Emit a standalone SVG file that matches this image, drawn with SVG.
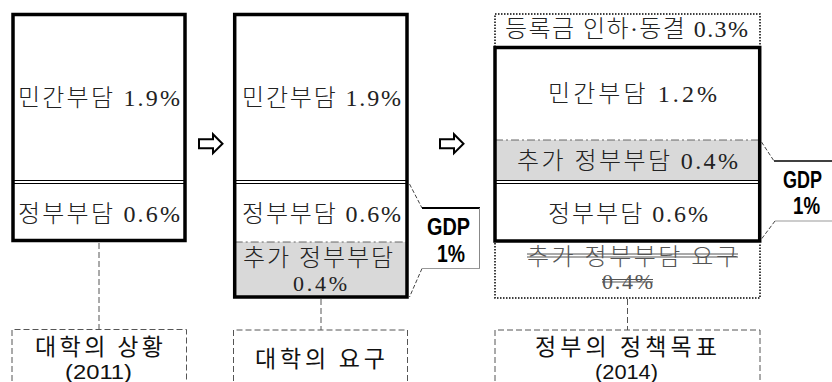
<svg xmlns="http://www.w3.org/2000/svg" width="832" height="382" viewBox="0 0 832 382">
<style>
.box{fill:none;stroke:#000;stroke-width:3.5}
.sep{stroke:#000;stroke-width:1;fill:none}
.dd{stroke:#666;stroke-width:1;stroke-dasharray:8 3 2 3;fill:none}
.dash{stroke:#555;stroke-width:1;stroke-dasharray:6 3;fill:none}
.dot{stroke:#000;stroke-width:1.5;stroke-dasharray:1.5 1.5;fill:none}
.diag{stroke:#444;stroke-width:1;stroke-dasharray:4 2;fill:none}
.gray{fill:#d9d9d9}
.s{font-family:"Liberation Serif","Noto Sans CJK KR",serif;font-size:24px;fill:#222;text-anchor:middle;font-weight:300}
.st{fill:#555}
.g{font-family:"Noto Sans CJK KR","Liberation Sans",sans-serif;font-size:23px;fill:#111;text-anchor:middle}
.gy{font-family:"Liberation Sans","Noto Sans CJK KR",sans-serif;font-size:21px;fill:#111;text-anchor:middle}
.gdp{font-family:"Liberation Sans",Arial,sans-serif;font-weight:bold;font-size:23px;fill:#000;text-anchor:middle}
.arr{fill:#fff;stroke:#000;stroke-width:2;stroke-linejoin:miter}
</style>
<defs>
<path id="arrow" d="M0,-4.5 H14 V-9.5 L23.5,0 L14,9.5 V4.5 H0 Z"/>
</defs>

<g id="connectors">
<line class="dash" x1="99" y1="243" x2="99" y2="329.5"/>
<line class="dash" x1="321" y1="299" x2="321" y2="330"/>
<line class="dash" x1="627.5" y1="299" x2="627.5" y2="330"/>
<use href="#arrow" class="arr" transform="translate(199,143.7)"/>
<use href="#arrow" class="arr" transform="translate(440,143.7)"/>
</g>

<g id="box1">
<rect x="13" y="14.5" width="172" height="226" fill="#fff"/>
<line class="sep" x1="13" y1="180.5" x2="185" y2="180.5"/>
<line class="sep" x1="13" y1="183.5" x2="185" y2="183.5"/>
<rect class="box" x="13" y="14.5" width="172" height="226"/>
<text class="s" x="99" y="106" textLength="162" lengthAdjust="spacing">민간부담 1.9%</text>
<text class="s" x="99" y="222" textLength="162" lengthAdjust="spacing">정부부담 0.6%</text>
</g>

<g id="box2">
<rect x="234.7" y="14.5" width="172.3" height="282.5" fill="#fff"/>
<rect class="gray" x="234.7" y="242" width="172.3" height="55"/>
<line class="sep" x1="234.7" y1="180.5" x2="407" y2="180.5"/>
<line class="sep" x1="234.7" y1="183.5" x2="407" y2="183.5"/>
<line class="dd" x1="234.7" y1="242" x2="407" y2="242"/>
<rect class="box" x="234.7" y="14.5" width="172.3" height="282.5"/>
<text class="s" x="321.5" y="106" textLength="159" lengthAdjust="spacing">민간부담 1.9%</text>
<text class="s" x="321.5" y="222" textLength="159" lengthAdjust="spacing">정부부담 0.6%</text>
<text class="s" x="318" y="266" textLength="150" lengthAdjust="spacing">추가 정부부담</text>
<text class="s" x="320" y="291" textLength="54" lengthAdjust="spacing" style="font-size:22px">0.4%</text>
</g>

<g id="gdp2">
<line class="diag" x1="409.5" y1="184" x2="422" y2="208"/>
<line class="diag" x1="422" y1="268.5" x2="409.5" y2="297"/>
<line x1="422" y1="208" x2="480" y2="208" stroke="#000" stroke-width="2"/>
<line x1="479.5" y1="208" x2="479.5" y2="268.5" stroke="#888" stroke-width="1"/>
<line x1="422" y1="268.5" x2="480" y2="268.5" stroke="#999" stroke-width="1"/>
<text class="gdp" x="448.5" y="235" textLength="43" lengthAdjust="spacingAndGlyphs">GDP</text>
<text class="gdp" x="451" y="262" textLength="28" lengthAdjust="spacingAndGlyphs">1%</text>
</g>

<g id="box3">
<path class="dot" d="M495,47 V14 H760 V47"/>
<text class="s" x="626.5" y="37" textLength="243" lengthAdjust="spacing">등록금 인하·동결 0.3%</text>
<rect x="495" y="47.5" width="264.7" height="193.5" fill="#fff"/>
<rect class="gray" x="495" y="140" width="264.7" height="40.5"/>
<line class="dd" x1="495" y1="140" x2="759.7" y2="140"/>
<line class="sep" x1="495" y1="180.5" x2="759.7" y2="180.5"/>
<line class="sep" x1="495" y1="183.5" x2="759.7" y2="183.5"/>
<rect class="box" x="495" y="47.5" width="264.7" height="193.5"/>
<text class="s" x="632.5" y="102" textLength="169" lengthAdjust="spacing">민간부담 1.2%</text>
<text class="s" x="627.5" y="169" textLength="221" lengthAdjust="spacing">추가 정부부담 0.4%</text>
<text class="s" x="628" y="222" textLength="160" lengthAdjust="spacing">정부부담 0.6%</text>
<path class="dot" d="M495,243 V298 H760 V243"/>
<text class="s st" x="632.5" y="265" textLength="211" lengthAdjust="spacing">추가 정부부담 요구</text>
<line x1="527" y1="254" x2="738" y2="254" stroke="#555" stroke-width="1"/>
<line x1="527" y1="257" x2="738" y2="257" stroke="#555" stroke-width="1"/>
<text class="s st" x="627.5" y="289" textLength="51" lengthAdjust="spacing" style="font-size:22px">0.4%</text>
<line x1="602" y1="279.5" x2="653" y2="279.5" stroke="#555" stroke-width="1"/>
<line x1="602" y1="282" x2="653" y2="282" stroke="#555" stroke-width="1"/>
</g>

<g id="gdp3">
<line class="diag" x1="761.5" y1="142" x2="774" y2="161"/>
<line class="diag" x1="775" y1="221" x2="761.5" y2="239"/>
<line x1="774" y1="161" x2="832" y2="161" stroke="#000" stroke-width="1.5"/>
<line x1="775" y1="221" x2="832" y2="221" stroke="#999" stroke-width="1"/>
<text class="gdp" x="802.5" y="188" textLength="39" lengthAdjust="spacingAndGlyphs">GDP</text>
<text class="gdp" x="806.5" y="214" textLength="27" lengthAdjust="spacingAndGlyphs">1%</text>
</g>

<g id="label1">
<path class="dash" d="M12,390 V329.5 H186.5 V390"/>
<text class="g" x="99" y="355" textLength="128" lengthAdjust="spacing">대학의 상황</text>
<text class="gy" x="98.5" y="379" textLength="67" lengthAdjust="spacingAndGlyphs">(2011)</text>
</g>
<g id="label2">
<path class="dash" d="M233.5,390 V330 H407.5 V390"/>
<text class="g" x="320" y="367" textLength="130" lengthAdjust="spacing">대학의 요구</text>
</g>
<g id="label3">
<path class="dash" d="M495,390 V330 H760 V390"/>
<text class="g" x="626" y="355" textLength="182" lengthAdjust="spacing">정부의 정책목표</text>
<text class="gy" x="626.5" y="379" textLength="63" lengthAdjust="spacingAndGlyphs">(2014)</text>
</g>
</svg>
